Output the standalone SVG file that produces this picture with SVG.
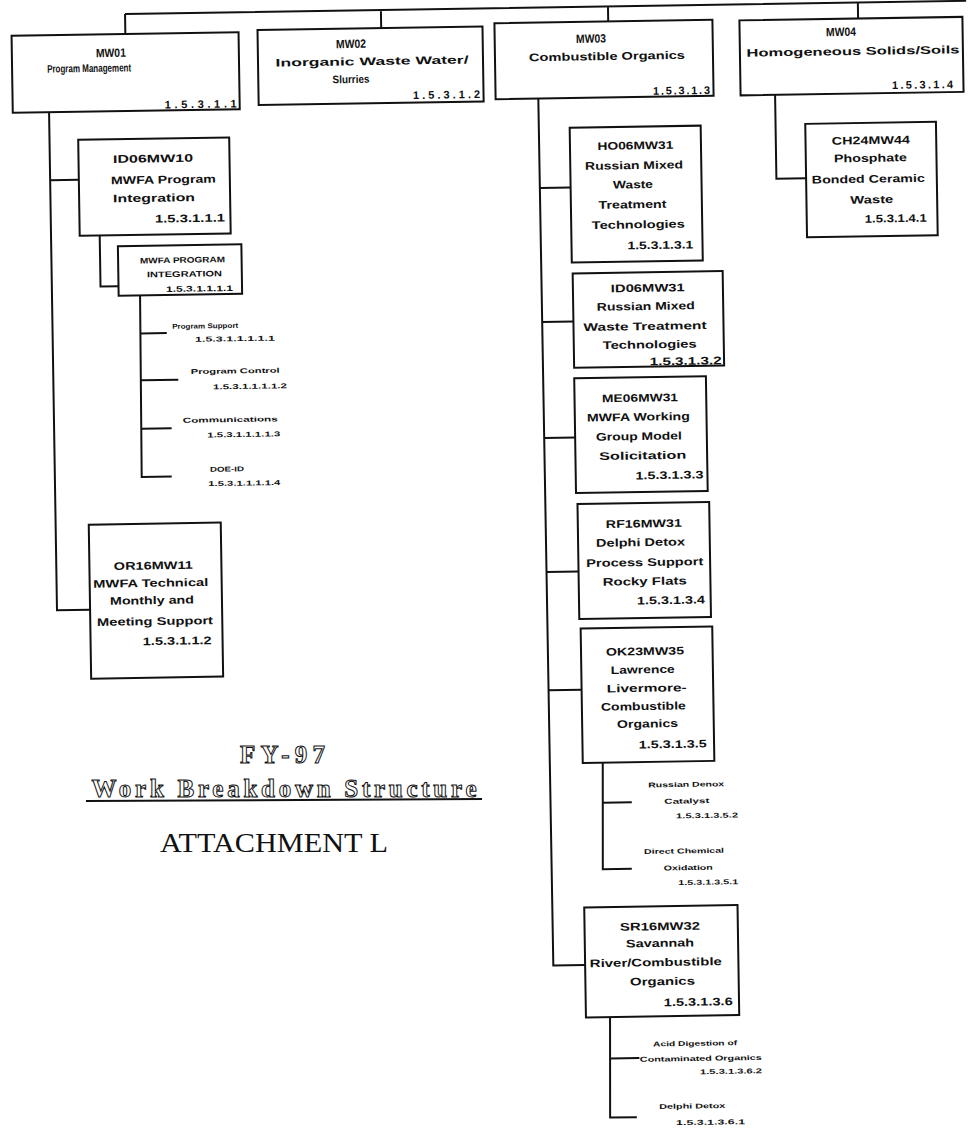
<svg xmlns="http://www.w3.org/2000/svg" width="970" height="1142" viewBox="0 0 970 1142">
  <style>
    .box{fill:#fff;stroke:#111;stroke-width:2}
    .ln{fill:none;stroke:#111;stroke-width:2}
    text{font-family:"Liberation Sans",Arial,sans-serif;font-weight:700;fill:#111}
    .m{text-anchor:middle;font-size:11px}
    .k{text-anchor:middle;font-size:12px}
    .e{text-anchor:end;font-size:11px}
    .sm{text-anchor:middle;font-size:7px}
    .ss{text-anchor:start;font-size:7px}
    .se{text-anchor:end;font-size:8px}
    .hd{font-family:"Liberation Serif","Times New Roman",serif;font-weight:700;fill:#fff;stroke:#111;stroke-width:1;font-size:25px;text-anchor:middle}
    .at{font-family:"Liberation Serif","Times New Roman",serif;font-weight:400;fill:#111;font-size:27px}
  </style>
  <rect width="970" height="1142" fill="#fff"/>

  <g transform="rotate(-0.9)">
    <g id="connectors">
      <path class="ln" d="M124.8 16H966M124.8 16V36M380.7 16V34M607.8 16V31M857.7 16V32"/>
      <!-- MW01 branch -->
      <path class="ln" d="M47.3 113L47.4 611H80.5M47.3 181H76"/>
      <path class="ln" d="M96 237V288H114"/>
      <path class="ln" d="M135.4 297.5L134.2 479.2H164.2M135.8 335.7H161.5M135.7 382.5H172.3M135 431H164.9"/>
      <!-- MW03 branch -->
      <path class="ln" d="M536.7 107L538.1 974H569.9M536.8 196.4H567.6M537.1 330.5H568.3M537.3 446.5H568.2M537.5 580.5H569.5M537.7 698.9H570.7"/>
      <path class="ln" d="M590.7 772L589.1 878.5H618.1M590.1 812H619.1"/>
      <path class="ln" d="M594 1026.5L592.5 1127H619.2M593.4 1068H622.7"/>
      <!-- MW04 branch -->
      <path class="ln" d="M773.5 107V191H803.2"/>
    </g>

    <g id="mw01">
      <rect class="box" x="11" y="36" width="227" height="77"/>
      <text class="k" x="110" y="58.7" textLength="30" lengthAdjust="spacingAndGlyphs">MW01</text>
      <text class="m" x="88" y="73.4" textLength="84" lengthAdjust="spacingAndGlyphs">Program Management</text>
      <text class="e" x="235" y="111" textLength="72">1.5.3.1.1</text>
    </g>
    <g id="mw02">
      <rect class="box" x="257" y="34" width="225" height="75"/>
      <text class="k" x="350.2" y="53.5" textLength="30" lengthAdjust="spacingAndGlyphs">MW02</text>
      <text class="m" x="371" y="70.8" textLength="193" lengthAdjust="spacingAndGlyphs">Inorganic Waste Water/</text>
      <text class="m" x="349.7" y="88.5" textLength="37" lengthAdjust="spacingAndGlyphs">Slurries</text>
      <text class="e" x="478.5" y="105.5" textLength="67">1.5.3.1.2</text>
    </g>
    <g id="mw03">
      <rect class="box" x="494" y="31" width="218" height="76"/>
      <text class="k" x="590.3" y="52" textLength="30" lengthAdjust="spacingAndGlyphs">MW03</text>
      <text class="m" x="606" y="69.5" textLength="156" lengthAdjust="spacingAndGlyphs">Combustible Organics</text>
      <text class="e" x="708.5" y="105" textLength="57">1.5.3.1.3</text>
    </g>
    <g id="mw04">
      <rect class="box" x="739" y="32" width="223" height="75"/>
      <text class="k" x="840.4" y="49.2" textLength="30" lengthAdjust="spacingAndGlyphs">MW04</text>
      <text class="m" x="852" y="68.4" textLength="213" lengthAdjust="spacingAndGlyphs">Homogeneous Solids/Soils</text>
      <text class="e" x="951.6" y="103" textLength="61">1.5.3.1.4</text>
    </g>

    <g id="id06mw10">
      <rect class="box" x="76" y="141" width="151" height="96"/>
      <text class="m" x="150.5" y="164.7" textLength="80" lengthAdjust="spacingAndGlyphs">ID06MW10</text>
      <text class="m" x="160.6" y="185.9" textLength="105" lengthAdjust="spacingAndGlyphs">MWFA Program</text>
      <text class="m" x="150.9" y="204.1" textLength="82" lengthAdjust="spacingAndGlyphs">Integration</text>
      <text class="e" x="221.5" y="225" textLength="70" lengthAdjust="spacingAndGlyphs">1.5.3.1.1.1</text>
    </g>
    <g id="mwfa-program-integration">
      <rect class="box" x="114" y="248" width="123.5" height="49.5"/>
      <text class="sm" x="178.4" y="265.6" textLength="85" lengthAdjust="spacingAndGlyphs" style="font-size:8px">MWFA PROGRAM</text>
      <text class="sm" x="180.2" y="279.6" textLength="75" lengthAdjust="spacingAndGlyphs" style="font-size:8px">INTEGRATION</text>
      <text class="se" x="228.4" y="294.5" textLength="67" lengthAdjust="spacingAndGlyphs">1.5.3.1.1.1.1</text>
    </g>
    <g id="program-support">
      <text class="sm" x="200" y="331.5" textLength="66" lengthAdjust="spacingAndGlyphs">Program Support</text>
      <text class="ss" x="189.6" y="344.8" textLength="80" lengthAdjust="spacingAndGlyphs">1.5.3.1.1.1.1.1</text>
    </g>
    <g id="program-control">
      <text class="ss" x="184.8" y="377" textLength="89" lengthAdjust="spacingAndGlyphs">Program Control</text>
      <text class="ss" x="206.9" y="392.6" textLength="74" lengthAdjust="spacingAndGlyphs">1.5.3.1.1.1.1.2</text>
    </g>
    <g id="communications">
      <text class="ss" x="176.1" y="425.6" textLength="95" lengthAdjust="spacingAndGlyphs">Communications</text>
      <text class="ss" x="200.4" y="440.6" textLength="73" lengthAdjust="spacingAndGlyphs">1.5.3.1.1.1.1.3</text>
    </g>
    <g id="doe-id">
      <text class="ss" x="202.6" y="475" textLength="34" lengthAdjust="spacingAndGlyphs">DOE-ID</text>
      <text class="ss" x="200.7" y="489.3" textLength="72" lengthAdjust="spacingAndGlyphs">1.5.3.1.1.1.1.4</text>
    </g>
    <g id="or16mw11">
      <rect class="box" x="80.5" y="526" width="132" height="154"/>
      <text class="m" x="144.4" y="571.7" textLength="79" lengthAdjust="spacingAndGlyphs">OR16MW11</text>
      <text class="m" x="141.6" y="589.1" textLength="115" lengthAdjust="spacingAndGlyphs">MWFA Technical</text>
      <text class="m" x="142.5" y="606.4" textLength="84" lengthAdjust="spacingAndGlyphs">Monthly and</text>
      <text class="m" x="145.2" y="627.4" textLength="116" lengthAdjust="spacingAndGlyphs">Meeting Support</text>
      <text class="e" x="201.6" y="647.3" textLength="69" lengthAdjust="spacingAndGlyphs">1.5.3.1.1.2</text>
    </g>

    <g id="ho06mw31">
      <rect class="box" x="567.6" y="136.6" width="131" height="134.8"/>
      <text class="m" x="633" y="159.3" textLength="76" lengthAdjust="spacingAndGlyphs">HO06MW31</text>
      <text class="m" x="631.3" y="179" textLength="98" lengthAdjust="spacingAndGlyphs">Russian Mixed</text>
      <text class="m" x="630" y="198.2" textLength="40" lengthAdjust="spacingAndGlyphs">Waste</text>
      <text class="m" x="629.2" y="218.2" textLength="68" lengthAdjust="spacingAndGlyphs">Treatment</text>
      <text class="m" x="634.7" y="238.3" textLength="93" lengthAdjust="spacingAndGlyphs">Technologies</text>
      <text class="e" x="689.4" y="259.2" textLength="66" lengthAdjust="spacingAndGlyphs">1.5.3.1.3.1</text>
    </g>
    <g id="id06mw31">
      <rect class="box" x="568.3" y="282.4" width="150" height="94.4"/>
      <text class="m" x="643.2" y="301.9" textLength="74" lengthAdjust="spacingAndGlyphs">ID06MW31</text>
      <text class="m" x="640.9" y="320.1" textLength="98" lengthAdjust="spacingAndGlyphs">Russian Mixed</text>
      <text class="m" x="639.8" y="340.1" textLength="123" lengthAdjust="spacingAndGlyphs">Waste Treatment</text>
      <text class="m" x="644.2" y="358.5" textLength="94" lengthAdjust="spacingAndGlyphs">Technologies</text>
      <text class="e" x="715.9" y="375.5" textLength="72" lengthAdjust="spacingAndGlyphs">1.5.3.1.3.2</text>
    </g>
    <g id="me06mw31">
      <rect class="box" x="568.2" y="387.2" width="131.7" height="114.8"/>
      <text class="m" x="633.7" y="411.7" textLength="76" lengthAdjust="spacingAndGlyphs">ME06MW31</text>
      <text class="m" x="631.7" y="430.7" textLength="103" lengthAdjust="spacingAndGlyphs">MWFA Working</text>
      <text class="m" x="631.9" y="450" textLength="86" lengthAdjust="spacingAndGlyphs">Group Model</text>
      <text class="m" x="635.5" y="469.4" textLength="87" lengthAdjust="spacingAndGlyphs">Solicitation</text>
      <text class="e" x="695.8" y="489.3" textLength="68" lengthAdjust="spacingAndGlyphs">1.5.3.1.3.3</text>
    </g>
    <g id="rf16mw31">
      <rect class="box" x="569.5" y="513" width="131.7" height="115"/>
      <text class="m" x="635.5" y="537.4" textLength="76" lengthAdjust="spacingAndGlyphs">RF16MW31</text>
      <text class="m" x="631.9" y="556.1" textLength="89" lengthAdjust="spacingAndGlyphs">Delphi Detox</text>
      <text class="m" x="635.8" y="576.1" textLength="117" lengthAdjust="spacingAndGlyphs">Process Support</text>
      <text class="m" x="635.5" y="595.1" textLength="84" lengthAdjust="spacingAndGlyphs">Rocky Flats</text>
      <text class="e" x="695.5" y="614.4" textLength="68" lengthAdjust="spacingAndGlyphs">1.5.3.1.3.4</text>
    </g>
    <g id="ok23mw35">
      <rect class="box" x="570.7" y="637.6" width="131.6" height="134.4"/>
      <text class="m" x="634.7" y="665.1" textLength="78" lengthAdjust="spacingAndGlyphs">OK23MW35</text>
      <text class="m" x="632.2" y="683.4" textLength="64" lengthAdjust="spacingAndGlyphs">Lawrence</text>
      <text class="m" x="635.8" y="701.9" textLength="80" lengthAdjust="spacingAndGlyphs">Livermore-</text>
      <text class="m" x="632.2" y="720.1" textLength="85" lengthAdjust="spacingAndGlyphs">Combustible</text>
      <text class="m" x="636.1" y="737.5" textLength="61" lengthAdjust="spacingAndGlyphs">Organics</text>
      <text class="e" x="695" y="758.4" textLength="68" lengthAdjust="spacingAndGlyphs">1.5.3.1.3.5</text>
    </g>
    <g id="russian-denox-catalyst">
      <text class="sm" x="673.8" y="797.5" textLength="76" lengthAdjust="spacingAndGlyphs">Russian Denox</text>
      <text class="sm" x="674.1" y="814.1" textLength="45" lengthAdjust="spacingAndGlyphs">Catalyst</text>
      <text class="ss" x="663.2" y="828.9" textLength="62" lengthAdjust="spacingAndGlyphs">1.5.3.1.3.5.2</text>
    </g>
    <g id="direct-chemical-oxidation">
      <text class="sm" x="670.6" y="864" textLength="80" lengthAdjust="spacingAndGlyphs">Direct Chemical</text>
      <text class="sm" x="674.6" y="880.8" textLength="49" lengthAdjust="spacingAndGlyphs">Oxidation</text>
      <text class="ss" x="664.4" y="895.6" textLength="60" lengthAdjust="spacingAndGlyphs">1.5.3.1.3.5.1</text>
    </g>
    <g id="sr16mw32">
      <rect class="box" x="569.9" y="916.5" width="153.3" height="110"/>
      <text class="m" x="645.4" y="940.4" textLength="80" lengthAdjust="spacingAndGlyphs">SR16MW32</text>
      <text class="m" x="645.1" y="957.1" textLength="68" lengthAdjust="spacingAndGlyphs">Savannah</text>
      <text class="m" x="640.6" y="976.3" textLength="132" lengthAdjust="spacingAndGlyphs">River/Combustible</text>
      <text class="m" x="647" y="995.4" textLength="65" lengthAdjust="spacingAndGlyphs">Organics</text>
      <text class="e" x="716.9" y="1016.5" textLength="69" lengthAdjust="spacingAndGlyphs">1.5.3.1.3.6</text>
    </g>
    <g id="acid-digestion">
      <text class="sm" x="678.6" y="1056.6" textLength="84" lengthAdjust="spacingAndGlyphs">Acid Digestion of</text>
      <text class="sm" x="684.1" y="1071.7" textLength="122" lengthAdjust="spacingAndGlyphs">Contaminated Organics</text>
      <text class="ss" x="683.1" y="1085" textLength="62" lengthAdjust="spacingAndGlyphs">1.5.3.1.3.6.2</text>
    </g>
    <g id="delphi-detox">
      <text class="sm" x="674.8" y="1119.2" textLength="66" lengthAdjust="spacingAndGlyphs">Delphi Detox</text>
      <text class="ss" x="658.3" y="1135.6" textLength="69" lengthAdjust="spacingAndGlyphs">1.5.3.1.3.6.1</text>
    </g>

    <g id="ch24mw44">
      <rect class="box" x="803.2" y="136.5" width="130.7" height="113.5"/>
      <text class="m" x="868.5" y="157.7" textLength="78" lengthAdjust="spacingAndGlyphs">CH24MW44</text>
      <text class="m" x="867.8" y="175.4" textLength="73" lengthAdjust="spacingAndGlyphs">Phosphate</text>
      <text class="m" x="865.4" y="196.3" textLength="113" lengthAdjust="spacingAndGlyphs">Bonded Ceramic</text>
      <text class="m" x="868.5" y="217" textLength="43" lengthAdjust="spacingAndGlyphs">Waste</text>
      <text class="e" x="923.2" y="236.2" textLength="62" lengthAdjust="spacingAndGlyphs">1.5.3.1.4.1</text>
    </g>
  </g>

  <!-- title block -->
  <g id="title">
    <text class="hd" x="282.5" y="763" textLength="85">FY-97</text>
    <text class="hd" x="284" y="797" textLength="385">Work  Breakdown  Structure</text>
    <path class="ln" d="M86 801L482 799"/>
    <text class="at" x="160" y="851.5" textLength="228" lengthAdjust="spacingAndGlyphs">ATTACHMENT L</text>
  </g>
</svg>
